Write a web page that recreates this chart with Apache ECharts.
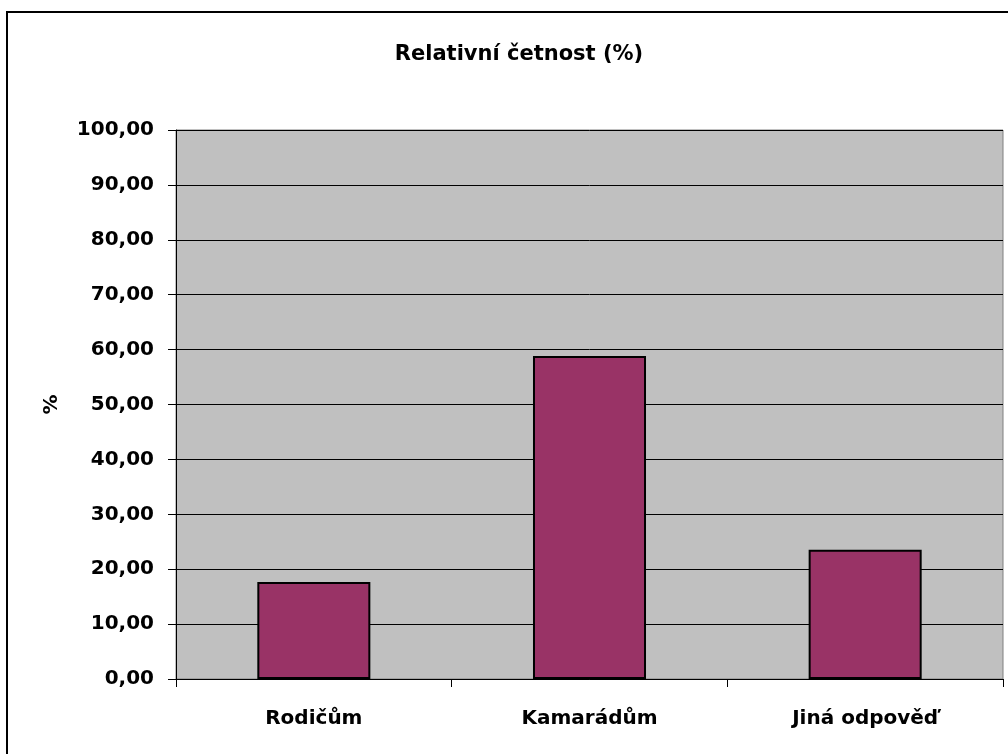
<!DOCTYPE html>
<html>
<head>
<meta charset="utf-8">
<script src="https://cdn.jsdelivr.net/npm/echarts@6/dist/echarts.min.js"></script>
<style>
  html, body { margin: 0; padding: 0; background: #fff; }
  #chart { width: 1008px; height: 754px; }
</style>
</head>
<body>
<div id="chart"></div>
<script>
// hodnoty
var categories = ['Rodičům', 'Kamarádům', 'Jiná odpověď'];
var values = [17.65, 58.82, 23.53];

var font = '"DejaVu Sans", Arial, sans-serif';
var myChart = echarts.init(document.getElementById('chart'));

var option = {
    animation: false,
    backgroundColor: '#ffffff',
    title: {
        text: 'Relativní četnost (%)',
        left: 514,
        textAlign: 'center',
        top: 39,
        textStyle: { fontFamily: font, fontSize: 21, fontWeight: 'bold', color: '#000' }
    },
    graphic: [{
        type: 'rect',
        shape: { x: 7, y: 12, width: 1010, height: 760 },
        style: { fill: 'none', stroke: '#000', lineWidth: 2 },
        silent: true
    }],
    grid: {
        left: 176,
        right: 5,
        top: 130,
        bottom: 75,
        show: true,
        backgroundColor: '#c0c0c0',
        borderColor: '#808080',
        borderWidth: 1
    },
    xAxis: {
        type: 'category',
        data: categories,
        axisLine: { lineStyle: { color: '#000', width: 1 } },
        axisTick: { show: true, length: 8, lineStyle: { color: '#000' } },
        axisLabel: {
            margin: 30,
            fontFamily: font, fontSize: 20, fontWeight: 'bold', color: '#000'
        }
    },
    yAxis: {
        type: 'value',
        min: 0,
        max: 100,
        interval: 10,
        name: '%',
        nameLocation: 'middle',
        nameGap: 114,
        nameRotate: 90,
        nameTextStyle: { fontFamily: font, fontSize: 20, fontWeight: 'bold', color: '#000' },
        axisLine: { show: true, lineStyle: { color: '#000', width: 1 } },
        axisTick: { show: true, length: 8, lineStyle: { color: '#000' } },
        splitLine: { show: true, lineStyle: { color: '#000', width: 1 } },
        axisLabel: {
            margin: 22,
            fontFamily: font, fontSize: 20, fontWeight: 'bold', color: '#000',
            formatter: function (v) { return v.toFixed(2).replace('.', ','); }
        }
    },
    series: [{
        type: 'bar',
        data: values,
        barWidth: '41%',
        itemStyle: { color: '#993366', borderColor: '#000', borderWidth: 2 }
    }]
};

myChart.setOption(option, true);
</script>
</body>
</html>
